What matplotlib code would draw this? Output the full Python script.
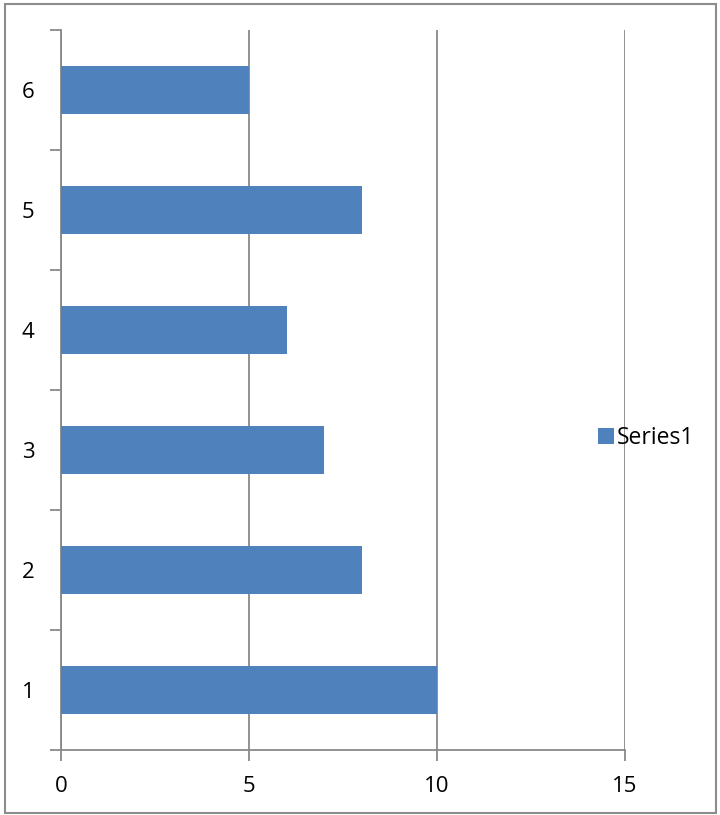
import matplotlib.pyplot as plt
from matplotlib.patches import Rectangle

categories = ['1', '2', '3', '4', '5', '6']
values = [10, 8, 7, 6, 8, 5]
x_ticks = [0, 5, 10, 15]
series_name = 'Series1'

plt.rcParams['font.family'] = ['Open Sans', 'DejaVu Sans']
grey = '#898989'
blue = '#4F81BD'

fig = plt.figure(figsize=(7.2, 8.15), dpi=100)
ax = fig.add_axes([61 / 720, 65 / 815, 564 / 720, 720 / 815])

pos = list(range(1, len(categories) + 1))
bars = ax.barh(pos, values, height=0.4, color=blue, label=series_name, zorder=3)

ax.set_xlim(0, 15)
ax.set_ylim(0.5, len(categories) + 0.5)
ax.set_xticks(x_ticks)
ax.set_xticklabels([str(t) for t in x_ticks])
ax.set_yticks(pos)
ax.set_yticklabels(categories)
# minor ticks at category boundaries, like Excel
ax.set_yticks([p + 0.5 for p in [0] + pos], minor=True)
ax.tick_params(axis='y', which='major', length=0, pad=19, labelsize=16)
ax.tick_params(axis='y', which='minor', length=8, color=grey, width=1.3)
ax.tick_params(axis='x', length=8, color=grey, width=1.3, pad=11, labelsize=16)

ax.grid(axis='x', color=grey, linewidth=1.3, zorder=0)
for side in ['top', 'right']:
    ax.spines[side].set_visible(False)
for side in ['left', 'bottom']:
    ax.spines[side].set_color(grey)
    ax.spines[side].set_linewidth(1.3)

ax.legend(loc='center left', bbox_to_anchor=(598 / 720, (815 - 438) / 815),
          bbox_transform=fig.transFigure, frameon=False, fontsize=16.5,
          handlelength=0.7, handleheight=0.7, handletextpad=0.1,
          borderpad=0, borderaxespad=0)

fig.patches.append(Rectangle((5 / 720, 2 / 815), 711 / 720, 809 / 815,
                             transform=fig.transFigure, fill=False,
                             edgecolor='#8c8c8c', linewidth=1.5))

fig.savefig('out.png', dpi=100)
